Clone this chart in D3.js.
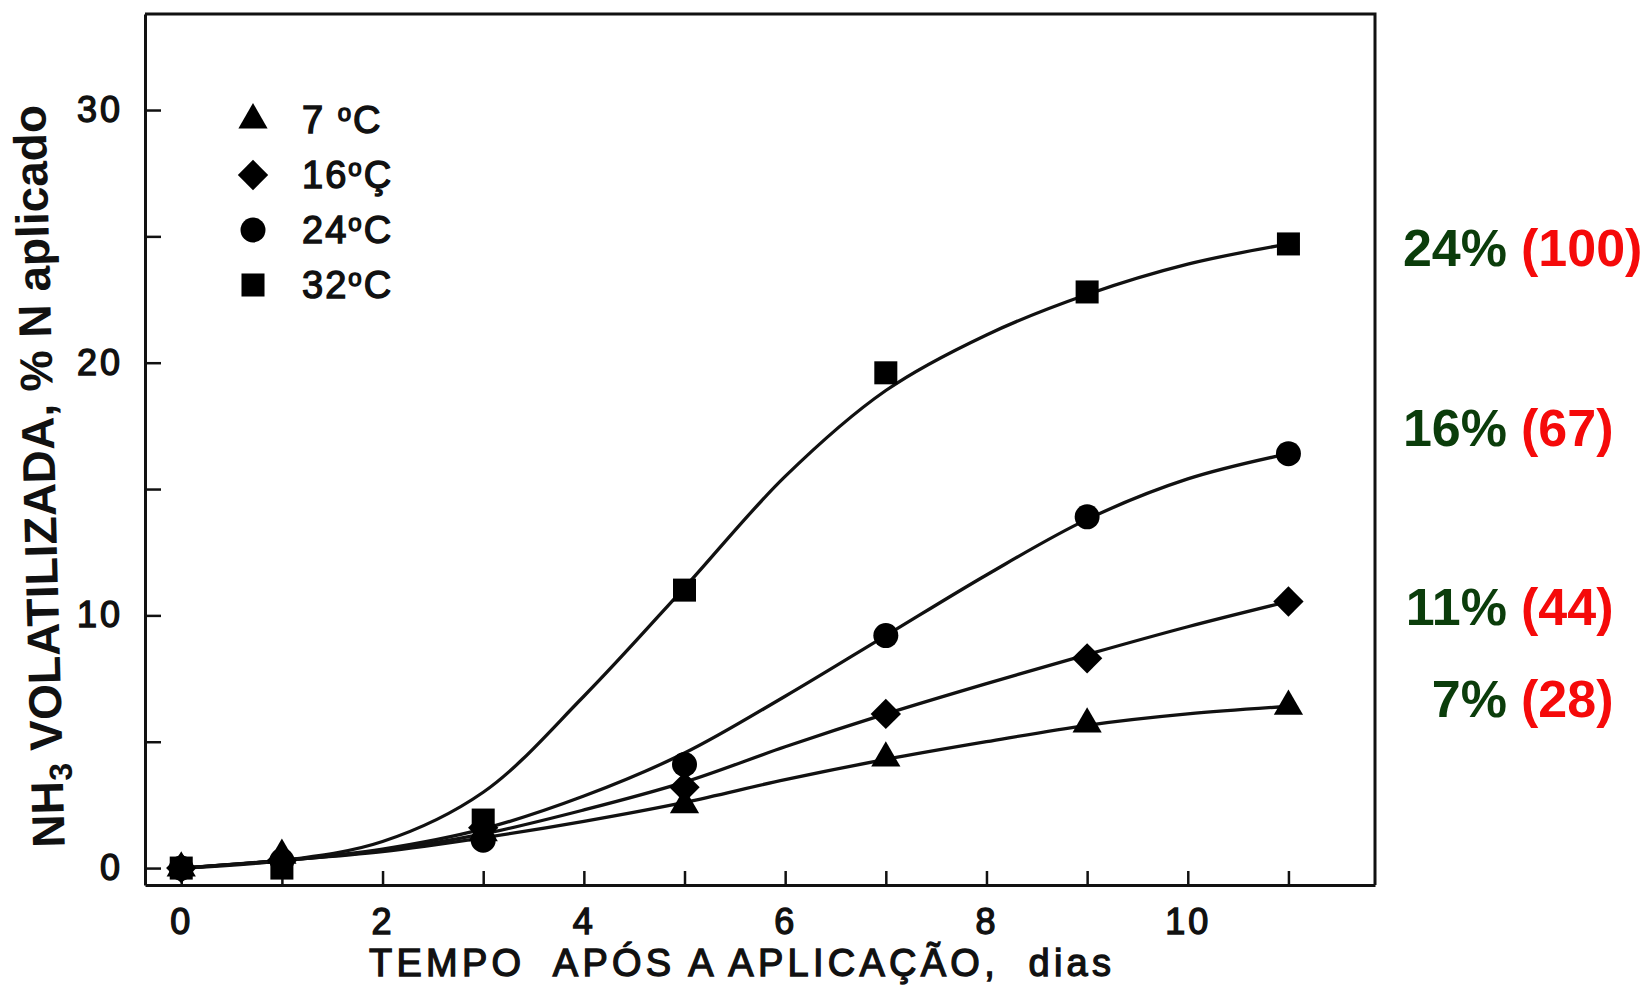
<!DOCTYPE html>
<html>
<head>
<meta charset="utf-8">
<script src="https://cdn.jsdelivr.net/npm/d3@7"></script>
<style>
  body { margin: 0; background: #fff; }
  text { font-family: "Liberation Sans", Arial, Helvetica, sans-serif; }
</style>
</head>
<body>
<svg width="1651" height="991"></svg>
<script>
// dias em que a amostra foi medida
var obsDays = [0, 1, 3, 5, 7, 9, 11];
// valores medidos (% N aplicado)
var obs7  = [0, 0.5, 1.4, 2.5, 4.35, 5.7, 6.4];
var obs16 = [0, 0.3, 1.6, 3.2, 6.1, 8.3, 10.55];
var obs24 = [0, 0.3, 1.1, 4.1, 9.2, 13.9, 16.4];
var obs32 = [0, 0, 1.9, 11.0, 19.6, 22.8, 24.7];

// curvas ajustadas, lidas dia a dia
var fitDays = [0, 1, 2, 3, 4, 5, 6, 7, 8, 9, 10, 11];
var fit7  = [0, 0.3, 0.65, 1.2, 1.85, 2.6, 3.5, 4.3, 5.0, 5.65, 6.1, 6.4];
var fit16 = [0, 0.3, 0.7, 1.35, 2.3, 3.4, 4.8, 6.1, 7.3, 8.45, 9.55, 10.55];
var fit24 = [0, 0.3, 0.75, 1.55, 2.85, 4.55, 6.8, 9.2, 11.6, 13.8, 15.4, 16.4];
var fit32 = [0, 0.3, 1.05, 3.0, 6.8, 11.1, 15.5, 18.9, 21.1, 22.7, 23.9, 24.7];

// legenda
var legendTemps = ["7 ", "16", "24", "32"];
var legendUnits = ["C", "Ç", "C", "C"];

// anotacoes a direita
var annotPct = ["24%", "16%", "11%", "7%"];
var annotRel = ["(100)", "(67)", "(44)", "(28)"];

var xTicks = [0, 1, 2, 3, 4, 5, 6, 7, 8, 9, 10, 11];
var yTicks = [0, 5, 10, 15, 20, 25, 30];

var svg = d3.select("svg");

var x = d3.scaleLinear().domain([-0.36, 11.86]).range([145, 1375]);
var y = d3.scaleLinear().domain([-0.67, 33.8]).range([885, 14]);

var series = [
  { obs: obs7,  fit: fit7,  shape: "triangle" },
  { obs: obs16, fit: fit16, shape: "diamond" },
  { obs: obs24, fit: fit24, shape: "circle" },
  { obs: obs32, fit: fit32, shape: "square" }
];

function marker(sel, shape) {
  var p;
  if (shape == "triangle") p = d3.symbol().type(d3.symbolTriangle).size(370)();
  else if (shape == "diamond") p = d3.symbol().type(d3.symbolSquare).size(460)();
  else if (shape == "circle") p = d3.symbol().type(d3.symbolCircle).size(490)();
  else p = d3.symbol().type(d3.symbolSquare).size(530)();
  sel.attr("d", p).attr("fill", "#000");
  return sel;
}

// moldura (topo e direita)
svg.append("path")
  .attr("d", "M" + x.range()[0] + "," + y.range()[1] + "H" + x.range()[1] + "V" + y.range()[0])
  .attr("fill", "none")
  .attr("stroke", "#111")
  .attr("stroke-width", 3);

// eixo Y
var gy = svg.append("g")
  .attr("transform", "translate(" + x.range()[0] + ",0)")
  .call(d3.axisLeft(y)
    .tickValues(yTicks)
    .tickSize(-16)
    .tickSizeOuter(0)
    .tickPadding(22)
    .tickFormat(function (d) { return d % 10 == 0 ? d : ""; }));

// eixo X
var gx = svg.append("g")
  .attr("transform", "translate(0," + y.range()[0] + ")")
  .call(d3.axisBottom(x)
    .tickValues(xTicks)
    .tickSize(-14)
    .tickSizeOuter(0)
    .tickPadding(23)
    .tickFormat(function (d) { return d % 2 == 0 ? d : ""; }));

[gx, gy].forEach(function (g) {
  g.select(".domain").attr("stroke", "#111").attr("stroke-width", 3);
  g.selectAll(".tick line").attr("stroke", "#111").attr("stroke-width", 2.5);
  g.selectAll(".tick text")
    .attr("font-family", "Liberation Sans, Arial, sans-serif")
    .attr("font-size", 36)
    .attr("letter-spacing", 3)
    .attr("fill", "#111")
    .attr("stroke", "#111")
    .attr("stroke-width", 1.4);
});

// curvas
var line = d3.line()
  .x(function (d) { return x(d[0]); })
  .y(function (d) { return y(d[1]); })
  .curve(d3.curveCatmullRom.alpha(0.5));

series.forEach(function (s) {
  svg.append("path")
    .datum(fitDays.map(function (d, i) { return [d, s.fit[i]]; }))
    .attr("d", line)
    .attr("fill", "none")
    .attr("stroke", "#111")
    .attr("stroke-width", 3.3);
});

// pontos medidos
series.forEach(function (s) {
  svg.append("g").selectAll("path")
    .data(obsDays.map(function (d, i) { return [d, s.obs[i]]; }))
    .enter()
    .append("path")
    .call(marker, s.shape)
    .attr("transform", function (d) {
      return "translate(" + x(d[0]) + "," + y(d[1]) + ")" + (s.shape == "diamond" ? " rotate(45)" : "");
    });
});

// legenda
var leg = svg.append("g").attr("transform", "translate(253,120)");
series.forEach(function (s, i) {
  var row = leg.append("g").attr("transform", "translate(0," + i * 55 + ")");
  row.append("path").call(marker, s.shape)
    .attr("transform", s.shape == "diamond" ? "rotate(45)" : null);
  var t = row.append("text")
    .attr("x", 49)
    .attr("y", 13)
    .attr("font-size", 38)
    .attr("letter-spacing", 2)
    .attr("fill", "#111")
    .attr("stroke", "#111")
    .attr("stroke-width", 1.4)
    .style("white-space", "pre");
  t.append("tspan").text(legendTemps[i]);
  t.append("tspan").attr("font-size", 24).attr("dy", -12).text("o");
  t.append("tspan").attr("dy", 12).text(legendUnits[i]);
});

// titulo eixo X
svg.append("text")
  .attr("x", 369)
  .attr("y", 976)
  .attr("font-size", 38)
  .attr("textLength", 742)
  .attr("lengthAdjust", "spacing")
  .attr("fill", "#111")
  .attr("stroke", "#111")
  .attr("stroke-width", 1.3)
  .style("white-space", "pre")
  .text("TEMPO  APÓS A APLICAÇÃO,  dias");

// titulo eixo Y
var yt = svg.append("text")
  .attr("transform", "translate(55,476) rotate(-91.5)")
  .attr("text-anchor", "middle")
  .attr("font-size", 46)
  .attr("font-weight", "bold")
  .attr("fill", "#111");
yt.append("tspan").text("NH");
yt.append("tspan").attr("font-size", 32).attr("dy", 9).text("3");
yt.append("tspan").attr("dy", -9).text(" VOLATILIZADA, % N aplicado");

// anotacoes
var annotBase = [266, 446, 625, 717];
annotPct.forEach(function (p, i) {
  svg.append("text")
    .attr("x", 1507)
    .attr("y", annotBase[i])
    .attr("text-anchor", "end")
    .attr("font-size", 52)
    .attr("font-weight", "bold")
    .attr("fill", "#0b3d0b")
    .text(p);
  svg.append("text")
    .attr("x", 1521)
    .attr("y", annotBase[i])
    .attr("font-size", 52)
    .attr("font-weight", "bold")
    .attr("fill", "#f50a0a")
    .text(annotRel[i]);
});
</script>
</body>
</html>
